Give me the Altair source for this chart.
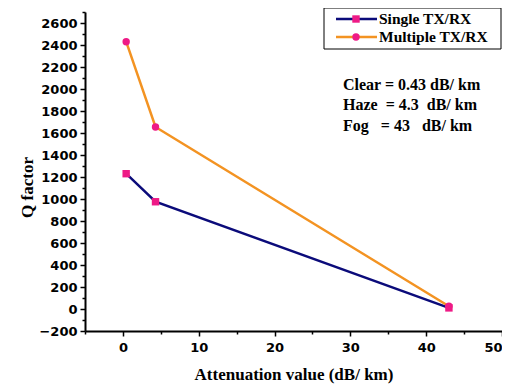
import altair as alt
import pandas as pd

attenuation = [0.43, 4.3, 43]
single_q = [1230, 975, 10]
multiple_q = [2430, 1655, 25]
series_names = ["Single TX/RX", "Multiple TX/RX"]
notes = ["Clear = 0.43 dB/ km", "Haze\u00a0 = 4.3\u00a0 dB/ km", "Fog\u00a0\u00a0 = 43\u00a0\u00a0 dB/ km"]

df = pd.DataFrame({
    "x": attenuation * 2,
    "q": single_q + multiple_q,
    "series": [series_names[0]] * 3 + [series_names[1]] * 3,
})

NAVY = "#0b0b7a"
ORANGE = "#f39322"
PINK = "#ee1a86"
SERIF = "Liberation Serif"
SANS = "DejaVu Sans"
LINE_COLORS = [NAVY, ORANGE]
SHAPES = ["square", "circle"]

x_scale = alt.Scale(domain=[-5, 50], nice=False, zero=False)
y_scale = alt.Scale(domain=[-200, 2700], nice=False, zero=False)

x_axis = alt.Axis(
    title="Attenuation value (dB/ km)",
    values=list(range(-5, 51, 5)),
    labelExpr="datum.value % 10 === 0 ? datum.label : ''",
    format="d",
    labelFlush=True,
    tickSize={"condition": {"test": "datum.value % 10 === 0", "value": 5}, "value": 3},
    grid=False, domainColor="black", domainWidth=2, tickColor="black", tickWidth=1.5,
    labelFont=SANS, labelFontWeight="bold", labelFontSize=13, labelColor="black", labelPadding=5,
    titleFont=SERIF, titleFontWeight="bold", titleFontSize=17, titleColor="black", titlePadding=12,
)
y_axis = alt.Axis(
    title="Q factor",
    values=list(range(-200, 2701, 100)),
    format="d",
    labelExpr="datum.value % 200 === 0 && datum.value <= 2600 ? datum.label : ''",
    tickSize={"condition": {"test": "datum.value % 200 === 0", "value": 5}, "value": 3},
    grid=False, domainColor="black", domainWidth=2, tickColor="black", tickWidth=1.5,
    labelFont=SANS, labelFontWeight="bold", labelFontSize=13, labelColor="black", labelPadding=3,
    titleFont=SERIF, titleFontWeight="bold", titleFontSize=17, titleColor="black",
    titleX=-58, titleY=175, titleAngle=-90, titleBaseline="middle", titleAlign="center",
)

color = alt.Color("series:N", scale=alt.Scale(domain=series_names, range=LINE_COLORS), legend=None)
shape = alt.Shape("series:N", scale=alt.Scale(domain=series_names, range=SHAPES), legend=None)

base = alt.Chart(df).encode(
    x=alt.X("x:Q", scale=x_scale, axis=x_axis),
    y=alt.Y("q:Q", scale=y_scale, axis=y_axis),
)
lines = base.mark_line(strokeWidth=2.5).encode(color=color, detail="series:N")
pts = base.mark_point(filled=True, size=55, opacity=1, color=PINK).encode(shape=shape)

one = pd.DataFrame({"a": [0]})
layers = [lines, pts]

# Custom legend box
layers.append(alt.Chart(one).mark_rect(fill="white", stroke="black", strokeWidth=1).encode(
    x=alt.value(239), x2=alt.value(416), y=alt.value(-4), y2=alt.value(37)))
leg_rows = [7, 25]
for i, name in enumerate(series_names):
    yy = leg_rows[i]
    layers.append(alt.Chart(one).mark_rule(strokeWidth=2.5, color=LINE_COLORS[i]).encode(
        x=alt.value(251), x2=alt.value(292), y=alt.value(yy)))
    layers.append(alt.Chart(one).mark_point(filled=True, size=55, opacity=1, color=PINK, shape=SHAPES[i]).encode(
        x=alt.value(271), y=alt.value(yy)))
    layers.append(alt.Chart(one).mark_text(
        align="left", baseline="middle", font=SERIF, fontWeight="bold", fontSize=15.5, color="black"
    ).encode(x=alt.value(294), y=alt.value(yy), text=alt.value(name)))

note_rows = [73, 93, 114]
for i, t in enumerate(notes):
    layers.append(alt.Chart(one).mark_text(
        align="left", baseline="middle", font=SERIF, fontWeight="bold", fontSize=16, color="black"
    ).encode(x=alt.value(258), y=alt.value(note_rows[i]), text=alt.value(t)))

chart = alt.layer(*layers).properties(
    width=417, height=319,
    autosize=alt.AutoSizeParams(type="none"),
    padding={"left": 77, "top": 4, "right": 0, "bottom": 56},
    background="white",
).configure_view(stroke=None)

chart.save("out.html", embed_options={"renderer": "svg", "actions": False})
